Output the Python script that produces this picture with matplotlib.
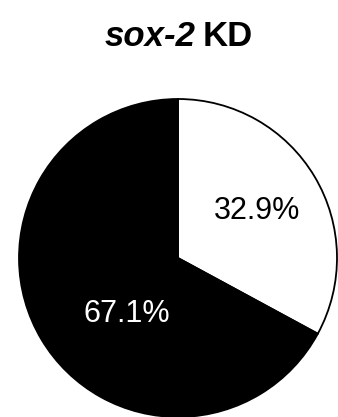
import matplotlib.pyplot as plt

labels = ["other", "sox-2 KD"]
values = [32.9, 67.1]
colors = ["white", "black"]

plt.rcParams['font.family'] = ['Liberation Sans', 'DejaVu Sans']

fig = plt.figure(figsize=(3.38, 4.17), dpi=100)
ax = fig.add_axes([19 / 338, 0.0, 318 / 338, 318 / 417])

wedges, texts, autotexts = ax.pie(values, colors=colors, startangle=90, counterclock=False,
                                  autopct='%1.1f%%', pctdistance=0.58,
                                  wedgeprops=dict(edgecolor='black', linewidth=1.3),
                                  textprops=dict(fontsize=22))
autotexts[0].set_color('black')
autotexts[1].set_color('white')
autotexts[1].set_position((-0.32, -0.35))
for w in wedges:
    w.set_clip_on(False)
ax.set_xlim(-1, 1)
ax.set_ylim(-1, 1)
ax.set_aspect('equal')
ax.axis('off')

fig.text(196 / 338, 1 - 46.5 / 417, "sox-2", ha='right', va='baseline', fontsize=25,
         fontweight='bold', style='italic')
fig.text(203 / 338, 1 - 46.5 / 417, "KD", ha='left', va='baseline', fontsize=25,
         fontweight='bold')

fig.savefig("out.png", dpi=100)
